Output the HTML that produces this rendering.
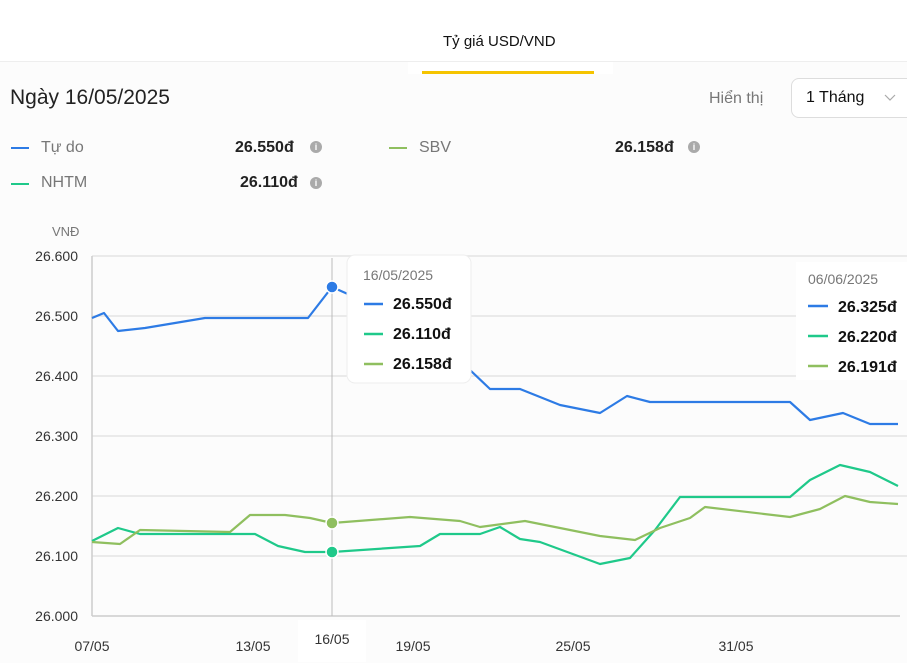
<!DOCTYPE html>
<html><head><meta charset="utf-8"><style>
body{margin:0;width:907px;height:663px;overflow:hidden;background:#fcfcfc;font-family:"Liberation Sans",sans-serif;position:relative;color:#222}
.a{position:absolute;white-space:nowrap}
</style></head><body>
<div class="a" style="left:0;top:0;width:907px;height:61px;background:#fff"></div>
<div class="a" style="left:0;top:61px;width:907px;height:1px;background:#eee"></div>
<div class="a" style="left:408px;top:62px;width:205px;height:12px;background:#fff"></div>
<div class="a" style="left:443px;top:33px;font-size:15px;color:#111">Tỷ giá USD/VND</div>
<div class="a" style="left:422px;top:71px;width:172px;height:3px;background:#f5c400"></div>
<div class="a" style="left:10px;top:86px;font-size:21px;color:#222">Ngày 16/05/2025</div>
<div class="a" style="left:709px;top:90px;font-size:16px;color:#777">Hiển thị</div>
<div class="a" style="left:791px;top:78px;width:130px;height:38px;border:1px solid #ddd;border-radius:8px;background:#fff"></div>
<div class="a" style="left:806px;top:89px;font-size:16px;color:#111">1 Tháng</div>
<svg class="a" style="left:884px;top:94px" width="12" height="8"><path d="M1 1l5 5 5-5" fill="none" stroke="#aaa" stroke-width="1.2"/></svg>

<div class="a" style="left:11px;top:147px;width:18px;height:2px;background:#2d7be5"></div>
<div class="a" style="left:41px;top:139px;font-size:16px;color:#777">Tự do</div>
<div class="a" style="left:235px;top:139px;font-size:16px;font-weight:bold">26.550đ</div>
<div class="a" style="left:310px;top:141px;width:12px;height:12px;border-radius:6px;background:#aaa;color:#fff;font-size:9px;text-align:center;line-height:12px;font-weight:bold">i</div>
<div class="a" style="left:389px;top:147px;width:18px;height:2px;background:#8fbf5f"></div>
<div class="a" style="left:419px;top:139px;font-size:16px;color:#777">SBV</div>
<div class="a" style="left:615px;top:139px;font-size:16px;font-weight:bold">26.158đ</div>
<div class="a" style="left:688px;top:141px;width:12px;height:12px;border-radius:6px;background:#aaa;color:#fff;font-size:9px;text-align:center;line-height:12px;font-weight:bold">i</div>
<div class="a" style="left:11px;top:183px;width:18px;height:2px;background:#1fc98a"></div>
<div class="a" style="left:41px;top:174px;font-size:16px;color:#777">NHTM</div>
<div class="a" style="left:240px;top:174px;font-size:16px;font-weight:bold">26.110đ</div>
<div class="a" style="left:310px;top:177px;width:12px;height:12px;border-radius:6px;background:#aaa;color:#fff;font-size:9px;text-align:center;line-height:12px;font-weight:bold">i</div>

<svg class="a" style="left:0;top:0" width="907" height="663" font-family="Liberation Sans, sans-serif">
<g stroke="#e4e4e4" stroke-width="1.5">
<line x1="92" y1="256" x2="907" y2="256"/><line x1="92" y1="316" x2="907" y2="316"/><line x1="92" y1="376" x2="907" y2="376"/><line x1="92" y1="436" x2="907" y2="436"/><line x1="92" y1="496" x2="907" y2="496"/><line x1="92" y1="556" x2="907" y2="556"/>
</g>
<line x1="92" y1="616" x2="900" y2="616" stroke="#ccc" stroke-width="1.5"/>
<line x1="92" y1="256" x2="92" y2="616" stroke="#ccc" stroke-width="1.5"/>
<g font-size="14" fill="#333" text-anchor="end">
<text x="78" y="261">26.600</text><text x="78" y="321">26.500</text><text x="78" y="381">26.400</text><text x="78" y="441">26.300</text><text x="78" y="501">26.200</text><text x="78" y="561">26.100</text><text x="78" y="621">26.000</text>
</g>
<text x="52" y="236" font-size="13" fill="#777">VNĐ</text>
<line x1="332" y1="258" x2="332" y2="616" stroke="#bbb" stroke-width="1"/>
<g fill="none" stroke-width="2.2" stroke-linejoin="round">
<polyline stroke="#2d7be5" points="92,318 104,313 118,331 145,328 205,318 308,318 332,287 350,295 470,370 490,389 520,389 560,405 600,413 627,396 650,402 790,402 810,420 843,413 870,424 898,424"/>
<polyline stroke="#1fc98a" points="92,541 118,528 140,534 255,534 278,546 305,552 332,552 420,546 440,534 480,534 500,527 520,539 540,542 600,564 630,558 655,530 680,497 790,497 810,480 840,465 870,472 898,486"/>
<polyline stroke="#8fbf5f" points="92,542 120,544 140,530 230,532 250,515 285,515 310,518 332,523 410,517 460,521 480,527 525,521 600,536 635,540 660,528 690,518 705,507 790,517 820,509 845,496 870,502 898,504"/>
</g>
<circle cx="332" cy="287" r="6" fill="#2d7be5" stroke="#fff" stroke-width="1.5"/>
<circle cx="332" cy="552" r="6" fill="#1fc98a" stroke="#fff" stroke-width="1.5"/>
<circle cx="332" cy="523" r="6" fill="#8fbf5f" stroke="#fff" stroke-width="1.5"/>
<rect x="298" y="620" width="68" height="42" fill="#fff"/>
<g font-size="14" fill="#333" text-anchor="middle">
<text x="92" y="651">07/05</text><text x="253" y="651">13/05</text><text x="332" y="644">16/05</text><text x="413" y="651">19/05</text><text x="573" y="651">25/05</text><text x="736" y="651">31/05</text>
</g>
<rect x="347" y="255" width="124" height="128" rx="8" fill="#fff" stroke="#eee"/>
<text x="363" y="280" font-size="14" fill="#777">16/05/2025</text>
<g font-size="16" font-weight="bold" fill="#111">
<text x="393" y="309">26.550đ</text><text x="393" y="339">26.110đ</text><text x="393" y="369">26.158đ</text>
</g>
<line x1="364" y1="304" x2="383" y2="304" stroke="#2d7be5" stroke-width="2.5"/>
<line x1="364" y1="334" x2="383" y2="334" stroke="#1fc98a" stroke-width="2.5"/>
<line x1="364" y1="364" x2="383" y2="364" stroke="#8fbf5f" stroke-width="2.5"/>
<rect x="796" y="262" width="115" height="118" fill="#fff"/>
<text x="808" y="284" font-size="14" fill="#777">06/06/2025</text>
<g font-size="16" font-weight="bold" fill="#111">
<text x="838" y="312">26.325đ</text><text x="838" y="342">26.220đ</text><text x="838" y="372">26.191đ</text>
</g>
<line x1="808" y1="306" x2="828" y2="306" stroke="#2d7be5" stroke-width="2.5"/>
<line x1="808" y1="336" x2="828" y2="336" stroke="#1fc98a" stroke-width="2.5"/>
<line x1="808" y1="366" x2="828" y2="366" stroke="#8fbf5f" stroke-width="2.5"/>
</svg>
</body></html>
